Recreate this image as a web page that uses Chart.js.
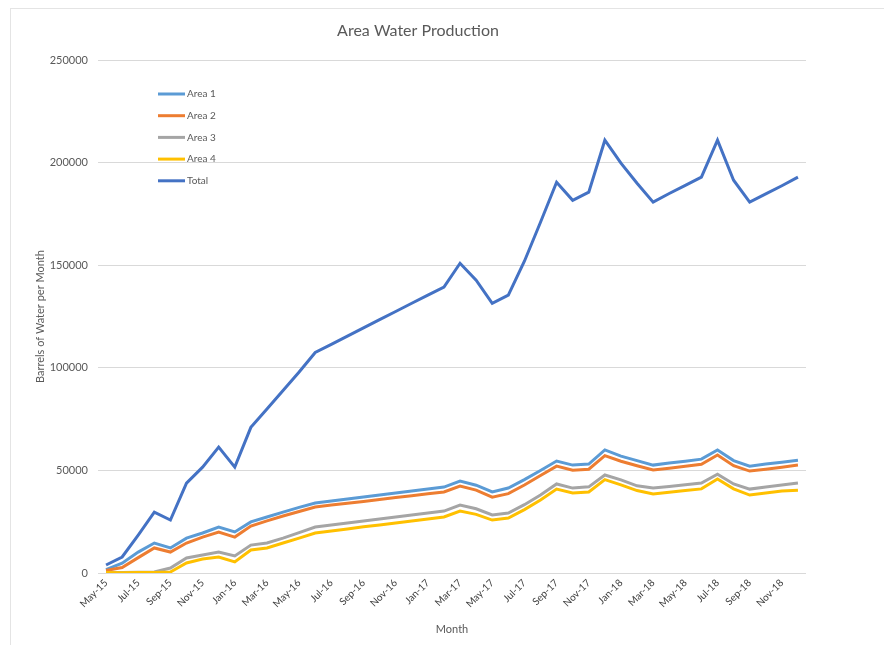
<!DOCTYPE html>
<html>
<head>
<meta charset="utf-8">
<title>Area Water Production</title>
<script src="https://cdn.jsdelivr.net/npm/chart.js@4.4.1/dist/chart.umd.min.js"></script>
<style>
  html, body { margin: 0; padding: 0; background: #fff; }
  #wrap { position: relative; width: 884px; height: 645px; }
  #frame {
    position: absolute; left: 10px; top: 8px; width: 880px; height: 640px;
    border: 1px solid #e4e4e4; box-sizing: border-box;
  }
  #chart { position: absolute; left: 0; top: 0; }
</style>
</head>
<body>
<div id="wrap">
  <div id="frame"></div>
  <canvas id="chart" width="884" height="645"></canvas>
</div>
<script>
// Monthly water production, barrels per month
const months = [
  'May-15', 'Jun-15', 'Jul-15', 'Aug-15', 'Sep-15', 'Oct-15', 'Nov-15', 'Dec-15',
  'Jan-16', 'Feb-16', 'Mar-16', 'Apr-16', 'May-16', 'Jun-16', 'Jul-16', 'Aug-16',
  'Sep-16', 'Oct-16', 'Nov-16', 'Dec-16', 'Jan-17', 'Feb-17', 'Mar-17', 'Apr-17',
  'May-17', 'Jun-17', 'Jul-17', 'Aug-17', 'Sep-17', 'Oct-17', 'Nov-17', 'Dec-17',
  'Jan-18', 'Feb-18', 'Mar-18', 'Apr-18', 'May-18', 'Jun-18', 'Jul-18', 'Aug-18',
  'Sep-18', 'Oct-18', 'Nov-18', 'Dec-18'
];

const area1 = [
  1600, 4800, 10200, 14600, 12200, 17000, 19500, 22400, 20000, 24900,
  27300, 29700, 32000, 34100, 35100, 36100, 37000, 38000, 39000, 40000,
  41000, 41900, 44800, 42800, 39500, 41400, 45500, 50000, 54600, 52600,
  53100, 60000, 57000, 54800, 52600, 53600, 54500, 55500, 60000, 54800,
  52100, 53100, 54000, 55000
];
const area2 = [
  1200, 2700, 7500, 12200, 10200, 14600, 17500, 20000, 17500, 22900,
  25400, 27800, 30000, 32200, 33100, 34000, 34900, 35800, 36800, 37700,
  38600, 39500, 42400, 40400, 37000, 38700, 42900, 47500, 52100, 50100,
  50600, 57200, 54500, 52300, 50200, 51100, 52000, 53000, 57500, 52300,
  49700, 50600, 51600, 52600
];
const area3 = [
  300, 300, 400, 500, 2400, 7300, 8800, 10200, 8300, 13600,
  14600, 17000, 19700, 22400, 23400, 24400, 25300, 26300, 27300, 28300,
  29200, 30200, 33100, 31300, 28300, 29200, 33300, 38000, 43400, 41400,
  42000, 47800, 45400, 42500, 41400, 42200, 43000, 43900, 48200, 43400,
  40900, 41900, 42900, 43900
];
const area4 = [
  200, 100, 200, 200, 500, 4900, 6800, 7800, 5400, 11200,
  12200, 14600, 17000, 19500, 20500, 21500, 22500, 23400, 24400, 25400,
  26300, 27300, 30200, 28600, 25800, 26800, 30900, 35600, 40900, 39000,
  39500, 45500, 43000, 40200, 38500, 39400, 40200, 41000, 45800, 41000,
  38000, 39000, 40000, 40400
];
const total = [
  3900, 7800, 18500, 29700, 25800, 43800, 51600, 61400, 51600, 71000,
  80000, 89000, 98000, 107500, 111500, 115500, 119500, 123500, 127500, 131500,
  135500, 139400, 151000, 142800, 131500, 135500, 152000, 171000, 190500, 181700,
  185700, 211000, 199800, 190000, 180800, 185000, 189000, 193000, 211000, 191500,
  180800, 184800, 188800, 193000
];

const yTicks = [0, 50000, 100000, 150000, 200000, 250000];

const seriesNames = ['Area 1', 'Area 2', 'Area 3', 'Area 4', 'Total'];
const seriesColors = ['#5b9bd5', '#ed7d31', '#a5a5a5', '#ffc000', '#4472c4'];
const seriesData = [area1, area2, area3, area4, total];

const textColor = '#595959';
const fontFamily = 'Lato, "Open Sans", sans-serif';

// later series sit on top, like the spreadsheet draws them
const datasets = seriesData.map((data, i) => ({
  label: seriesNames[i],
  data,
  borderColor: seriesColors[i],
  backgroundColor: seriesColors[i],
  borderWidth: 3,
  pointRadius: 0,
  tension: 0,
  fill: false,
  order: seriesData.length - i,
}));

// vertical legend tucked in the top-left corner of the plot
const insideLegend = {
  id: 'insideLegend',
  afterDraw(chart) {
    const ctx = chart.ctx;
    const x0 = 158, y0 = 94, gap = 21.7, len = 27;
    ctx.save();
    ctx.font = '10px ' + fontFamily;
    ctx.textBaseline = 'middle';
    seriesNames.forEach((name, i) => {
      const y = y0 + i * gap;
      ctx.strokeStyle = seriesColors[i];
      ctx.lineWidth = 3;
      ctx.beginPath();
      ctx.moveTo(x0, y);
      ctx.lineTo(x0 + len, y);
      ctx.stroke();
      ctx.fillStyle = textColor;
      ctx.fillText(name, x0 + len + 2, y);
    });
    ctx.restore();
  }
};

new Chart(document.getElementById('chart'), {
  type: 'line',
  data: { labels: months, datasets },
  plugins: [insideLegend],
  options: {
    responsive: false,
    animation: false,
    layout: { padding: { left: 30, right: 78, top: 0, bottom: 5 } },
    scales: {
      x: {
        offset: true,
        grid: { display: false, drawTicks: false },
        border: { display: false },
        afterFit: (s) => { s.height = 67; },
        ticks: {
          autoSkip: false,
          minRotation: 45,
          maxRotation: 45,
          padding: 4,
          color: '#404040',
          font: { family: fontFamily, size: 10 },
          callback: (v, i) => (i % 2 === 0 ? months[i] : ''),
        },
        title: {
          display: true,
          text: 'Month',
          color: textColor,
          font: { family: fontFamily, size: 11 },
          padding: { top: 0, bottom: 4 },
        },
      },
      y: {
        min: 0,
        max: 250000,
        afterBuildTicks: (s) => { s.ticks = yTicks.map(v => ({ value: v })); },
        afterFit: (s) => { s.width = 68; },
        grid: { color: '#d9d9d9', lineWidth: 1, drawTicks: false },
        border: { display: false },
        ticks: {
          padding: 10,
          color: textColor,
          font: { family: fontFamily, size: 11 },
          callback: (v) => String(v),
        },
        title: {
          display: true,
          text: 'Barrels of Water per Month',
          color: textColor,
          font: { family: fontFamily, size: 11 },
          padding: { top: 4, bottom: 4 },
        },
      },
    },
    plugins: {
      legend: { display: false },
      tooltip: { enabled: false },
      title: {
        display: true,
        text: 'Area Water Production',
        color: textColor,
        font: { family: fontFamily, size: 16, weight: 'normal' },
        padding: { top: 21, bottom: 20 },
      },
    },
  },
});
</script>
</body>
</html>
